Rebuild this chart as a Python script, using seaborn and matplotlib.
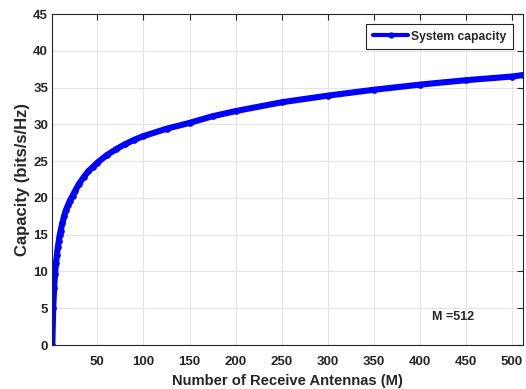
import matplotlib
matplotlib.use("Agg")
import matplotlib.pyplot as plt
import seaborn as sns
import pandas as pd

antennas = [1, 2, 3, 4, 5, 6, 7, 8, 9, 10, 12, 14, 16, 18, 20, 23, 26, 30, 35, 40,
            45, 50, 60, 70, 80, 90, 100, 125, 150, 175, 200, 250, 300, 350, 400,
            450, 500, 512]
capacity = [0.0, 5.0, 7.8, 9.7, 11.1, 12.3, 13.3, 14.1, 14.9, 15.5, 16.6, 17.6,
            18.4, 19.0, 19.6, 20.3, 21.0, 21.9, 22.8, 23.6, 24.2, 24.8, 25.8, 26.6,
            27.3, 27.9, 28.4, 29.4, 30.2, 31.1, 31.8, 33.0, 33.9, 34.7, 35.4, 36.0,
            36.5, 36.7]
series_name = "System capacity"
x_ticks = [50, 100, 150, 200, 250, 300, 350, 400, 450, 500]
y_ticks = [0, 5, 10, 15, 20, 25, 30, 35, 40, 45]

sns.set_style("whitegrid")
plt.rcParams['font.family'] = ['Liberation Sans', 'DejaVu Sans']
plt.rcParams['font.weight'] = 'bold'

df = pd.DataFrame({"M": antennas, "C": capacity, "series": series_name})

fig = plt.figure(figsize=(5.26, 3.89), dpi=100)
ax = fig.add_axes([0.0994, 0.1131, 0.8949, 0.8509])

sns.lineplot(data=df, x="M", y="C", hue="series", palette=["#0000ff"], ax=ax,
             marker="o", markersize=4.8, markeredgewidth=0, linewidth=4.4,
             legend=True)

ax.set_xlim(1, 512)
ax.set_ylim(0, 45)
ax.set_xticks(x_ticks)
ax.set_yticks(y_ticks)
ax.set_xlabel("Number of Receive Antennas (M)", fontsize=10.6, fontweight='bold', labelpad=4)
ax.set_ylabel("Capacity (bits/s/Hz)", fontsize=12, fontweight='bold', labelpad=2)
ax.tick_params(axis='both', which='both', direction='in', length=4, width=0.8,
               top=True, right=True, labelsize=9.5, colors='#262626')
ax.tick_params(axis='x', pad=8)
ax.tick_params(axis='y', pad=3)
for lab in ax.get_xticklabels() + ax.get_yticklabels():
    lab.set_fontweight('bold')
    lab.set_color('#262626')
ax.grid(True, color='#e4e4e4', linewidth=0.8)
for s in ax.spines.values():
    s.set_visible(True)
    s.set_color('#262626')
    s.set_linewidth(0.8)

leg = ax.legend(loc='upper right', bbox_to_anchor=(0.9788, 0.9698), borderaxespad=0,
                frameon=True, fancybox=False, edgecolor='#262626', framealpha=1,
                prop={'weight': 'bold', 'size': 8.7}, handlelength=2.9,
                borderpad=0.55, handletextpad=0.25)
leg.get_frame().set_linewidth(0.8)
for h in leg.get_lines():
    h.set_linewidth(3)
    h.set_markersize(4.5)

ax.text(413.6, 3.85, "M =512", fontsize=9, fontweight='bold', va='center', ha='left')

fig.savefig("out.png", dpi=100, facecolor='white')
